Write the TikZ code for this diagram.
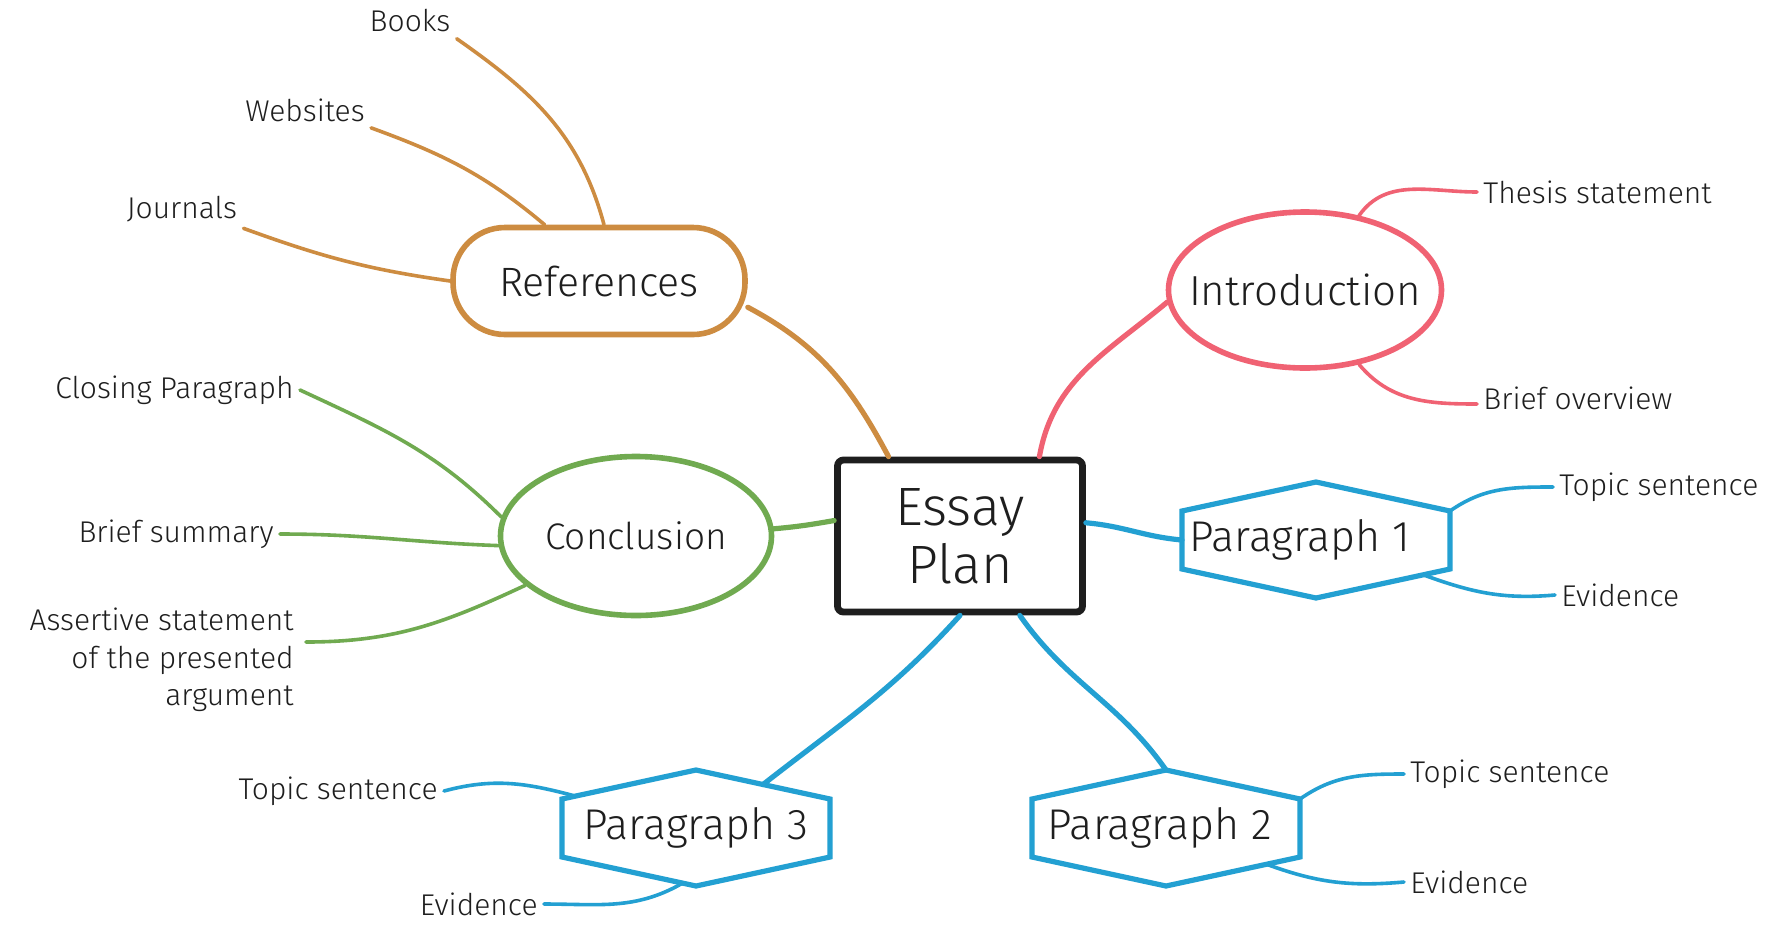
\documentclass[tikz,border=0pt]{standalone}
\usepackage{fontspec}
\setmainfont{Fira Sans Light}
\usetikzlibrary{calc,shapes.geometric}
\definecolor{cref}{HTML}{CD8C41}
\definecolor{cintro}{HTML}{F06273}
\definecolor{cconc}{HTML}{70AA50}
\definecolor{cpara}{HTML}{23A0D2}
\definecolor{cink}{HTML}{1E1E1E}
\newcommand{\drawhexagon}[2]{%
  \coordinate (#1-ul) at ($(#1.north west)!0.25!(#1.south west)$);
  \coordinate (#1-ll) at ($(#1.north west)!0.75!(#1.south west)$);
  \coordinate (#1-ur) at ($(#1.north east)!0.25!(#1.south east)$);
  \coordinate (#1-lr) at ($(#1.north east)!0.75!(#1.south east)$);
  \draw[#2] (#1.north) -- (#1-ur) -- (#1-lr) -- (#1.south) -- (#1-ll) -- (#1-ul) -- cycle;
}
\begin{document}
\begin{tikzpicture}[x=0.5pt,y=0.5pt,
  mainlbl/.style={font=\fontsize{20}{24}\selectfont, text=cink},
  leaf/.style={font=\fontsize{15}{18.75}\selectfont, text=cink, inner sep=3pt},
  refbox/.style={draw=cref, line width=2.8pt, rounded corners=26pt, minimum width=146pt, minimum height=53.5pt, mainlbl},
  ellbox/.style={ellipse, line width=2.8pt, inner sep=0pt, mainlbl},
  hexbox/.style={minimum width=134pt, minimum height=58pt, outer sep=0pt, inner sep=0pt, font=\fontsize{21.5}{25}\selectfont, text=cink},
  hexline/.style={draw=cpara, line width=2.6pt, line join=miter},
  essaybox/.style={draw=cink, line width=3.4pt, rounded corners=3pt, minimum width=122.5pt, minimum height=76pt, align=center, font=\fontsize{27}{29}\selectfont, text=cink},
  refc/.style={draw=cref, line cap=round},
  introc/.style={draw=cintro, line cap=round},
  concc/.style={draw=cconc, line cap=round},
  parac/.style={draw=cpara, line cap=round},
  thick1/.style={line width=2.6pt},
  thin1/.style={line width=1.8pt}
]
\fill[white] (0,0) rectangle (1771,-927);
\useasboundingbox (0,0) rectangle (1771,-927);

% central node
\node[essaybox] (essay) at (960,-536) {Essay\\Plan};

% main nodes
\node[refbox, font=\fontsize{20.5}{24}\selectfont] (ref) at (599,-281) {References};
\node[ellbox, draw=cintro, minimum width=136.5pt, minimum height=78pt, font=\fontsize{21}{24}\selectfont] (intro) at (1305,-290) {\makebox[0pt]{Introduction}};
\node[ellbox, draw=cconc, minimum width=135.5pt, minimum height=79.5pt, font=\fontsize{18.5}{24}\selectfont] (conc) at (636,-536) {\makebox[0pt]{Conclusion}};
\node[hexbox] (p1) at (1316,-540) {\makebox[0pt]{\hspace*{-16pt}Paragraph 1}};
\drawhexagon{p1}{hexline}
\node[hexbox] (p2) at (1166,-828) {\makebox[0pt]{\hspace*{-6pt}Paragraph 2}};
\drawhexagon{p2}{hexline}
\node[hexbox] (p3) at (696,-828) {\makebox[0pt]{Paragraph 3}};
\drawhexagon{p3}{hexline}

% leaves
\node[leaf] (books) at (410,-21) {Books};
\node[leaf] (websites) at (305,-110) {Websites};
\node[leaf] (journals) at (182,-209) {Journals};
\node[leaf, anchor=east] (closing) at (300,-390) {Closing Paragraph};
\node[leaf, anchor=east] (summary) at (280,-534) {Brief summary};
\node[leaf, anchor=east, align=right] (assert) at (300,-660) {Assertive statement\\of the presented\\argument};
\node[leaf, anchor=west] (thesis) at (1477,-192) {Thesis statement};
\node[leaf, anchor=west] (overview) at (1477,-398) {Brief overview};
\node[leaf, anchor=west] (ts1) at (1553,-487) {Topic sentence};
\node[leaf, anchor=west] (ev1) at (1555,-595) {Evidence};
\node[leaf, anchor=west] (ts2) at (1404,-774) {Topic sentence};
\node[leaf, anchor=west] (ev2) at (1404,-882) {Evidence};
\node[leaf, anchor=east] (ts3) at (444,-791) {Topic sentence};
\node[leaf, anchor=east] (ev3) at (544,-904) {Evidence};

% references branch
\draw[refc, thin1] (books.south east) to[out=-35,in=105] ($(ref.north)+(5,0)$);
\draw[refc, thin1] (websites.south east) to[out=-20,in=140] (ref.134);
\draw[refc, thin1] (journals.south east) to[out=-20,in=172] (ref.west);
\draw[refc, thick1] (ref.-10) to[out=-28,in=118] (essay.132);

% introduction branch
\draw[introc, thick1] (intro.185) to[out=-140,in=80] (essay.45);
\draw[introc, thin1] (intro.54) to[out=55,in=180] (thesis.west);
\draw[introc, thin1] (intro.-54) to[out=-50,in=180] ($(overview.west)+(0,-6)$);

% conclusion branch
\draw[concc, thick1] (conc.3) to[out=5,in=190] (essay.173);
\draw[concc, thin1] (closing.east) to[out=-25,in=135] (conc.172);
\draw[concc, thin1] (summary.east) to[out=0,in=178] (conc.184);
\draw[concc, thin1] ($(assert.east)+(6,18)$) to[out=0,in=205] (conc.204);

% paragraph 1
\draw[parac, thick1] (essay.6) to[out=-5,in=175] (p1.west);
\draw[parac, thin1] (p1-ur) to[out=35,in=180] (ts1.west);
\draw[parac, thin1] ($(p1-lr)!0.2!(p1.south)$) to[out=-20,in=185] (ev1.west);

% paragraph 2
\draw[parac, thick1] (essay.-53) to[out=-55,in=125] (p2.north);
\draw[parac, thin1] (p2-ur) to[out=35,in=180] (ts2.west);
\draw[parac, thin1] ($(p2-lr)!0.25!(p2.south)$) to[out=-20,in=185] (ev2.west);

% paragraph 3
\draw[parac, thick1] (essay.south) to[out=-132,in=38] ($(p3.north)!0.5!(p3-ur)$);
\draw[parac, thin1] (ts3.east) to[out=15,in=165] ($(p3-ul)!0.1!(p3.north)$);
\draw[parac, thin1] (ev3.east) to[out=0,in=210] ($(p3.south)!0.1!(p3-ll)$);
\end{tikzpicture}
\end{document}
